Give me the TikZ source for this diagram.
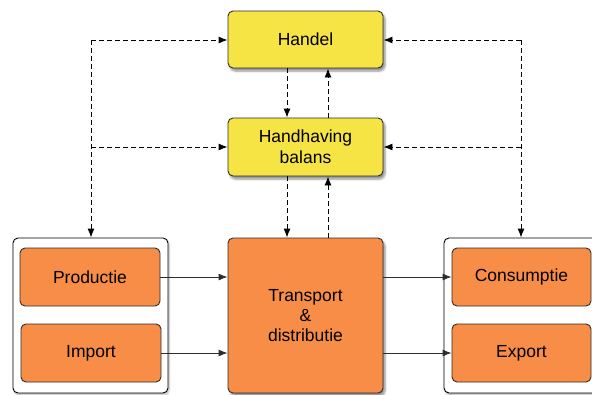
\documentclass[tikz,border=0pt]{standalone}
\usepackage{fontspec}
\setmainfont{Liberation Sans}
\usetikzlibrary{arrows.meta,shadows.blur}

\definecolor{boxyellow}{RGB}{246,227,68}
\definecolor{boxorange}{RGB}{247,141,70}
\definecolor{edgegray}{RGB}{45,45,45}

\tikzset{
  box/.style={draw=edgegray, line width=0.9pt, rounded corners=5pt,
    align=center, inner sep=0pt, font=\fontsize{17.5}{21}\selectfont},
  yellowbox/.style={box, fill=boxyellow, minimum width=155pt, minimum height=57pt,
    blur shadow={shadow xshift=2pt, shadow yshift=-3pt, shadow blur steps=6, shadow opacity=45}},
  orangebox/.style={box, fill=boxorange, minimum width=140pt, minimum height=58pt},
  bigbox/.style={box, fill=boxorange, minimum width=155pt, minimum height=155pt,
    blur shadow={shadow xshift=2pt, shadow yshift=-3pt, shadow blur steps=6, shadow opacity=45}},
  groupbox/.style={draw=black, line width=0.9pt, fill=white, rounded corners=5pt,
    minimum width=155pt, minimum height=155pt, inner sep=0pt,
    blur shadow={shadow xshift=1pt, shadow yshift=-2pt, shadow blur steps=4, shadow opacity=30}},
  infl/.style={draw=black, line width=0.9pt, dash pattern=on 5pt off 3pt,
    -{Latex[length=9pt,width=7pt]}},
  flow/.style={draw=edgegray, line width=0.9pt, -{Latex[length=9pt,width=7pt]}},
}

\begin{document}
\begin{tikzpicture}[x=1pt,y=-1pt]
  \useasboundingbox (0,0) rectangle (592,394);
  \clip (0,0) rectangle (592,394);

  % top row: trade and balancing
  \node[yellowbox] (handel) at (305.5,39.5) {Handel};
  \node[yellowbox, minimum height=58pt] (balans) at (305.5,147) {Handhaving\\balans};

  % supply side group
  \node[groupbox] (supply) at (90.5,315.5) {};
  \node[orangebox] (productie) at (90,277) {Productie};
  \node[orangebox] (import) at (91,353) {Import};

  % central transport node
  \node[bigbox] (transport) at (305.5,315.5) {Transport\\[-1pt]\&\\[-1pt]distributie};

  % demand side group
  \node[groupbox] (demand) at (521.5,315.5) {};
  \node[orangebox, minimum width=139pt] (consumptie) at (521.5,277) {Consumptie};
  \node[orangebox, minimum width=139pt] (export) at (521.5,353) {Export};

  % branch points of the dashed feedback lines
  \coordinate (lt) at (91,40);
  \coordinate (lm) at (91,147);
  \coordinate (rt) at (521,40);
  \coordinate (rm) at (521,147);

  % left feedback line
  \draw[infl] (lt) -- (handel.west |- lt);
  \draw[infl] (lm) -- (balans.west |- lm);
  \draw[infl] (lt) -- (supply.north -| lt);

  % right feedback line
  \draw[infl] (rt) -- (handel.east |- rt);
  \draw[infl] (rm) -- (balans.east |- rm);
  \draw[infl] (rt) -- (demand.north -| rt);

  % vertical links between the central boxes
  \draw[infl] (handel.south -| 287,0) -- (balans.north -| 287,0);
  \draw[infl] (balans.north -| 328,0) -- (handel.south -| 328,0);
  \draw[infl] (balans.south -| 287,0) -- (transport.north -| 287,0);
  \draw[infl] (transport.north -| 328,0) -- (balans.south -| 328,0);

  % material flows
  \draw[flow] (productie.east) -- (transport.west |- productie.east);
  \draw[flow] (import.east) -- (transport.west |- import.east);
  \draw[flow] (transport.east |- consumptie.west) -- (consumptie.west);
  \draw[flow] (transport.east |- export.west) -- (export.west);
\end{tikzpicture}
\end{document}
